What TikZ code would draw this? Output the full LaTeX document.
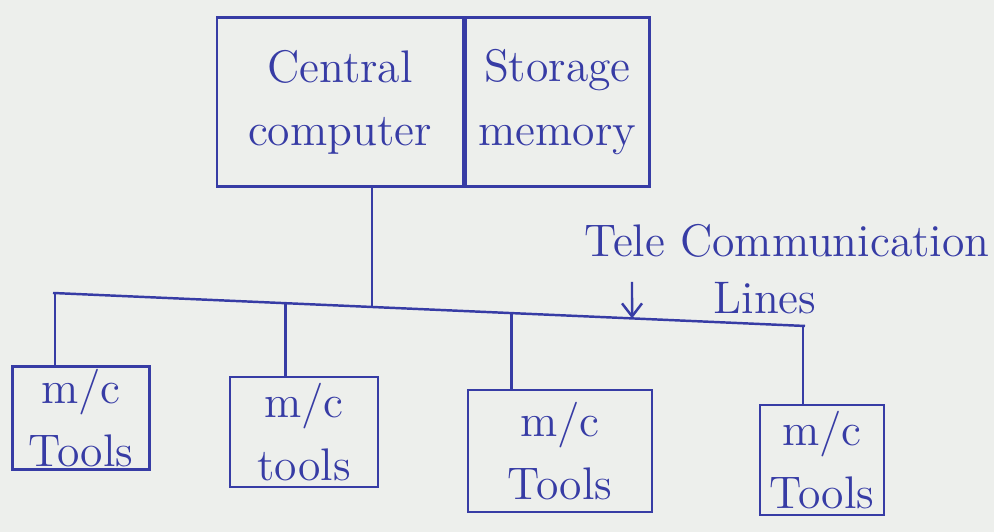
\documentclass[tikz,border=0pt]{standalone}
\usetikzlibrary{calc, arrows.meta}

\definecolor{ink}{RGB}{55,60,165}
\definecolor{paper}{RGB}{237,239,236}

\begin{document}
\begin{tikzpicture}[
        x=0.1mm, y=-0.1mm, % units of the sketch, y grows downwards
        every node/.style = {font=\fontsize{13}{18}\selectfont, text=ink},
        part/.style = {draw=ink, line width=0.7pt, align=center, inner sep=0pt, minimum height=1.69cm}, % top block
        tool/.style = {draw=ink, line width=0.7pt, align=center, inner sep=0pt}, % machine boxes
        wire/.style = {draw=ink, line width=0.7pt},
    ]

    \fill[paper, use as bounding box] (0,0) rectangle (994,532);

    % central block
    \node[part, minimum width=2.46cm] (comp) at (340,102) {Central\\computer};
    \node[part, minimum width=1.84cm, anchor=west] (stor) at (comp.east) {Storage\\memory};

    % machine tools
    \node[tool, minimum width=1.37cm, minimum height=1.03cm] (tool1) at (81,418) {m/c\\Tools};
    \node[tool, minimum width=1.48cm, minimum height=1.10cm] (tool2) at (304,432) {m/c\\tools};
    \node[tool, minimum width=1.84cm, minimum height=1.22cm] (tool3) at (560,451) {m/c\\Tools};
    \node[tool, minimum width=1.24cm, minimum height=1.10cm] (tool4) at (822,460) {m/c\\Tools};

    % telecommunication lines
    \coordinate (busL) at (53,293);
    \coordinate (busR) at (805,326);
    \coordinate (j0) at ($(busL)!0.424!(busR)$); % trunk
    \coordinate (j1) at ($(busL)!0.003!(busR)$);
    \coordinate (j2) at ($(busL)!0.309!(busR)$);
    \coordinate (j3) at ($(busL)!0.610!(busR)$);
    \coordinate (j4) at ($(busL)!0.997!(busR)$);
    \draw[wire] (busL) -- (busR);
    \draw[wire] (comp.south -| j0) -- (j0);
    \draw[wire] (tool1.north -| j1) -- (j1);
    \draw[wire] (tool2.north -| j2) -- (j2);
    \draw[wire] (tool3.north -| j3) -- (j3);
    \draw[wire] (tool4.north -| j4) -- (j4);

    % label
    \node[anchor=south west] (tele) at (572,270) {Tele Communication};
    \node (lines) at (765,298) {Lines};
    \coordinate (arr) at (632,282);
    \draw[wire, -{Straight Barb[length=1.3mm, width=2mm]}] (arr) -- ($(busL)!0.770!(busR)$);

\end{tikzpicture}
\end{document}
